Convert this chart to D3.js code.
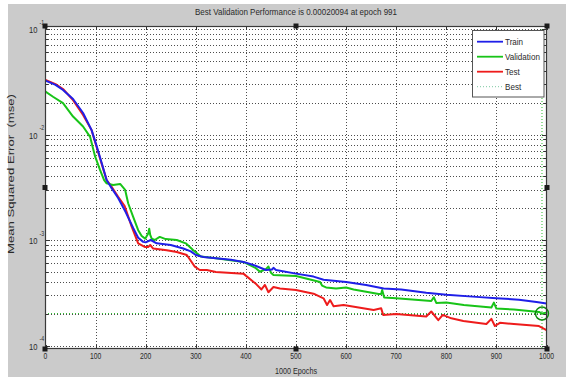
<!DOCTYPE html>
<html>
<head>
<meta charset="utf-8">
<script src="https://cdn.jsdelivr.net/npm/d3@7"></script>
<style>
  html, body { margin: 0; padding: 0; background: #ffffff; }
  svg { display: block; }
  text { font-family: Arial, "Liberation Sans", sans-serif; fill: #2a2a2a; }
</style>
</head>
<body>
<svg id="chart" width="566" height="377"></svg>
<script>
// ---- data: epochs and mean squared error per subset ----
const trainEpochs = [0,20,35,55,75,92,102,112,122,132,145,160,175,185,195,200,210,222,250,275,290,300,315,340,370,395,415,440,452,455,460,500,535,555,600,640,675,710,760,800,860,900,945,980,1000];
const trainMse = [3.24e-2,2.95e-2,2.64e-2,2.17e-2,1.60e-2,1.10e-2,7.8e-3,5.4e-3,3.7e-3,3.1e-3,2.5e-3,1.84e-3,1.30e-3,1.05e-3,9.6e-4,9.5e-4,1.0e-3,9.3e-4,8.97e-4,8.3e-4,7.8e-4,7.2e-4,6.9e-4,6.7e-4,6.5e-4,6.2e-4,5.8e-4,5.2e-4,5.25e-4,5.45e-4,5.2e-4,4.8e-4,4.5e-4,4.2e-4,4.0e-4,3.75e-4,3.47e-4,3.4e-4,3.16e-4,3.03e-4,2.89e-4,2.81e-4,2.72e-4,2.59e-4,2.5e-4];

const valEpochs = [0,15,35,55,75,89,99,109,117,122,135,149,159,165,175,185,192,199,205,207,209,212,218,228,240,262,280,295,310,340,395,420,428,440,445,450,455,500,548,552,560,580,600,615,665,670,672,676,700,770,775,780,800,835,890,895,900,935,985,991,1000];
const valMse = [2.55e-2,2.28e-2,1.98e-2,1.48e-2,1.19e-2,9.5e-3,6.2e-3,4.6e-3,3.7e-3,3.44e-3,3.32e-3,3.4e-3,2.98e-3,2.23e-3,1.66e-3,1.24e-3,1.09e-3,1.03e-3,1.15e-3,1.28e-3,1.12e-3,1.03e-3,1.0e-3,1.07e-3,1.02e-3,1.0e-3,9.3e-4,8.0e-4,6.96e-4,6.7e-4,6.2e-4,5.4e-4,5.0e-4,5.3e-4,5.6e-4,4.9e-4,4.66e-4,4.55e-4,4.0e-4,3.7e-4,3.55e-4,3.47e-4,3.55e-4,3.4e-4,3.07e-4,3.08e-4,3.36e-4,2.85e-4,2.8e-4,2.64e-4,2.87e-4,2.53e-4,2.55e-4,2.42e-4,2.29e-4,2.55e-4,2.24e-4,2.19e-4,2.08e-4,2.0094e-4,2.05e-4];

const testEpochs = [0,20,35,55,75,92,102,112,122,132,145,158,172,185,198,205,209,215,242,262,282,298,308,322,340,395,421,431,438,445,455,468,500,535,555,562,568,575,595,655,670,674,700,760,770,784,793,810,834,880,890,897,907,935,985,1000];
const testMse = [3.29e-2,3.0e-2,2.70e-2,2.12e-2,1.53e-2,1.10e-2,7.6e-3,5.3e-3,3.7e-3,3.2e-3,2.57e-3,2.1e-3,1.34e-3,9.3e-4,8.6e-4,8.6e-4,8.97e-4,8.3e-4,8.0e-4,7.7e-4,7.2e-4,5.6e-4,5.2e-4,5.2e-4,4.98e-4,4.8e-4,3.8e-4,3.4e-4,3.75e-4,3.2e-4,3.58e-4,3.47e-4,3.36e-4,3.1e-4,2.8e-4,2.42e-4,2.7e-4,2.35e-4,2.42e-4,2.17e-4,2.25e-4,1.95e-4,1.99e-4,1.88e-4,2.1e-4,1.74e-4,1.95e-4,1.81e-4,1.71e-4,1.6e-4,1.79e-4,1.53e-4,1.64e-4,1.6e-4,1.53e-4,1.40e-4];

const bestEpoch = 991;
const bestMse = 0.00020094;

const xTicks = [0,100,200,300,400,500,600,700,800,900,1000];
const yDecadeExponents = [-1,-2,-3,-4];
const legendLabels = ["Train","Validation","Test","Best"];

const titleText = "Best Validation Performance is 0.00020094 at epoch 991";
const xLabelText = "1000 Epochs";
const yLabelText = "Mean Squared Error  (mse)";

// ---- layout ----
const W = 566, H = 377;
const frame = { left: 45, right: 547, top: 26, bottom: 349 };
const colors = { train: "#1f1fe8", val: "#18c418", test: "#ee1c1c", best: "#2fbf2f", circle: "#0d8a0d" };

const svg = d3.select("#chart");

// figure background
svg.append("rect").attr("x", 0).attr("y", 0).attr("width", W).attr("height", H).attr("fill", "#ffffff");
svg.append("rect").attr("x", 8).attr("y", 4).attr("width", W - 8).attr("height", H - 4).attr("fill", "#cbcbcb");

const x = d3.scaleLinear().domain([0, 1000]).range([45.5, 546.5]);
const y = d3.scaleLog().domain([1e-4, 1e-1]).range([345.5, 29]);

// axes area
svg.append("rect")
  .attr("x", frame.left).attr("y", frame.top)
  .attr("width", frame.right - frame.left).attr("height", frame.bottom - frame.top)
  .attr("fill", "#ffffff");

svg.append("clipPath").attr("id", "plotClip")
  .append("rect")
  .attr("x", frame.left).attr("y", frame.top)
  .attr("width", frame.right - frame.left).attr("height", frame.bottom - frame.top);

// grid lines
const gridG = svg.append("g").attr("stroke", "#2e2e2e").attr("stroke-width", 1)
  .attr("stroke-dasharray", "1,2").attr("opacity", 0.85);

gridG.selectAll("line.vx")
  .data(xTicks.filter(t => t > 0 && t < 1000))
  .join("line")
  .attr("x1", d => Math.round(x(d)) + 0.5).attr("x2", d => Math.round(x(d)) + 0.5)
  .attr("y1", frame.top).attr("y2", frame.bottom);

const yGridValues = [];
for (let e = -4; e <= -2; e++) {
  for (let k = 1; k <= 9; k++) yGridValues.push(k * Math.pow(10, e));
}
yGridValues.push(1e-1);

gridG.selectAll("line.hy")
  .data(yGridValues)
  .join("line")
  .attr("x1", frame.left).attr("x2", frame.right)
  .attr("y1", d => Math.round(y(d)) + 0.5).attr("y2", d => Math.round(y(d)) + 0.5);

// best-epoch guide lines
const bestG = svg.append("g").attr("stroke", colors.best).attr("stroke-width", 1).attr("stroke-dasharray", "1,2");
bestG.append("line")
  .attr("x1", frame.left).attr("x2", frame.right)
  .attr("y1", y(bestMse)).attr("y2", y(bestMse));
bestG.append("line")
  .attr("x1", x(bestEpoch)).attr("x2", x(bestEpoch))
  .attr("y1", frame.top).attr("y2", frame.bottom);

// series
const line = d3.line().x(d => x(d[0])).y(d => y(d[1]));
const series = [
  { ep: testEpochs, v: testMse, c: colors.test },
  { ep: valEpochs, v: valMse, c: colors.val },
  { ep: trainEpochs, v: trainMse, c: colors.train }
];
const dataG = svg.append("g").attr("clip-path", "url(#plotClip)");
series.forEach(s => {
  dataG.append("path")
    .datum(s.ep.map((e, i) => [e, s.v[i]]))
    .attr("d", line)
    .attr("fill", "none")
    .attr("stroke", s.c)
    .attr("stroke-width", 2)
    .attr("stroke-linejoin", "round");
});

// best point marker
svg.append("circle")
  .attr("cx", x(bestEpoch)).attr("cy", y(bestMse)).attr("r", 6.5)
  .attr("fill", "none").attr("stroke", colors.circle).attr("stroke-width", 1.5);

// tick marks (inside the frame)
const tickG = svg.append("g").attr("stroke", "#333").attr("stroke-width", 1);
xTicks.forEach(t => {
  const xx = Math.round(x(t)) + 0.5;
  tickG.append("line").attr("x1", xx).attr("x2", xx).attr("y1", frame.bottom).attr("y2", frame.bottom - 4);
  tickG.append("line").attr("x1", xx).attr("x2", xx).attr("y1", frame.top).attr("y2", frame.top + 4);
});
yGridValues.forEach(v => {
  const yy = Math.round(y(v)) + 0.5;
  const len = Math.abs(Math.log10(v) - Math.round(Math.log10(v))) < 1e-9 ? 5 : 3;
  tickG.append("line").attr("x1", frame.left).attr("x2", frame.left + len).attr("y1", yy).attr("y2", yy);
  tickG.append("line").attr("x1", frame.right).attr("x2", frame.right - len).attr("y1", yy).attr("y2", yy);
});

// frame
svg.append("rect")
  .attr("x", frame.left + 0.5).attr("y", frame.top + 0.5)
  .attr("width", frame.right - frame.left - 1).attr("height", frame.bottom - frame.top - 1)
  .attr("fill", "none").attr("stroke", "#3a3a3a").attr("stroke-width", 1.2);

// selection handles on the frame
const hx = [frame.left, (frame.left + frame.right) / 2, frame.right];
const hy = [frame.top, (frame.top + frame.bottom) / 2, frame.bottom];
const handles = [];
hx.forEach((a, i) => hy.forEach((b, j) => { if (!(i === 1 && j === 1)) handles.push([a, b]); }));
svg.selectAll("rect.handle").data(handles).join("rect")
  .attr("class", "handle")
  .attr("x", d => d[0] - 2.5).attr("y", d => d[1] - 2.5)
  .attr("width", 5).attr("height", 5)
  .attr("fill", "#1a1a1a");

// squeeze text horizontally
function squeeze(sel, ratio) {
  sel.each(function () {
    const w = this.getComputedTextLength();
    d3.select(this).attr("textLength", w * ratio).attr("lengthAdjust", "spacingAndGlyphs");
  });
}

// x tick labels
const xLab = svg.append("g").selectAll("text").data(xTicks).join("text")
  .attr("x", d => x(d)).attr("y", 359)
  .attr("text-anchor", "middle").attr("font-size", 9)
  .text(d => d);
squeeze(xLab, 0.75);

// y tick labels: 10 with superscript exponent
yDecadeExponents.forEach(e => {
  const yy = y(Math.pow(10, e));
  svg.append("text").attr("x", 37.5).attr("y", yy + 4)
    .attr("text-anchor", "end").attr("font-size", 9.5).text("10")
    .call(s => squeeze(s, 0.8));
  svg.append("text").attr("x", 39.5).attr("y", yy - 4.5)
    .attr("text-anchor", "start").attr("font-size", 6.5).text(e)
    .call(s => squeeze(s, 0.8));
});

// title and axis labels
svg.append("text").attr("x", 296).attr("y", 15)
  .attr("text-anchor", "middle").attr("font-size", 9.5)
  .attr("textLength", 202).attr("lengthAdjust", "spacingAndGlyphs")
  .text(titleText);

svg.append("text").attr("x", 296).attr("y", 374)
  .attr("text-anchor", "middle").attr("font-size", 9)
  .text(xLabelText)
  .call(s => squeeze(s, 0.8));

svg.append("text")
  .attr("transform", "translate(14,174) rotate(-90)")
  .attr("text-anchor", "middle").attr("font-size", 9.5)
  .attr("fill", "#3a3a3a")
  .style("white-space", "pre")
  .attr("textLength", 160).attr("lengthAdjust", "spacingAndGlyphs")
  .text(yLabelText);

// legend
const lg = svg.append("g");
lg.append("rect").attr("x", 472.5).attr("y", 30.5).attr("width", 71.5).attr("height", 66.5)
  .attr("fill", "#ffffff").attr("stroke", "#555").attr("stroke-width", 1);
const legendStyles = [
  { c: colors.train, dash: null, w: 1.8 },
  { c: colors.val, dash: null, w: 1.8 },
  { c: colors.test, dash: null, w: 1.8 },
  { c: "#7cc7a0", dash: "1,2", w: 1 }
];
legendLabels.forEach((lab, i) => {
  const yy = 41.7 + i * 15;
  const st = legendStyles[i];
  lg.append("line").attr("x1", 477).attr("x2", 503).attr("y1", yy).attr("y2", yy)
    .attr("stroke", st.c).attr("stroke-width", st.w)
    .attr("stroke-dasharray", st.dash);
  lg.append("text").attr("x", 505).attr("y", yy + 3.5).attr("font-size", 9.5).text(lab)
    .call(s => squeeze(s, 0.85));
});
</script>
</body>
</html>
